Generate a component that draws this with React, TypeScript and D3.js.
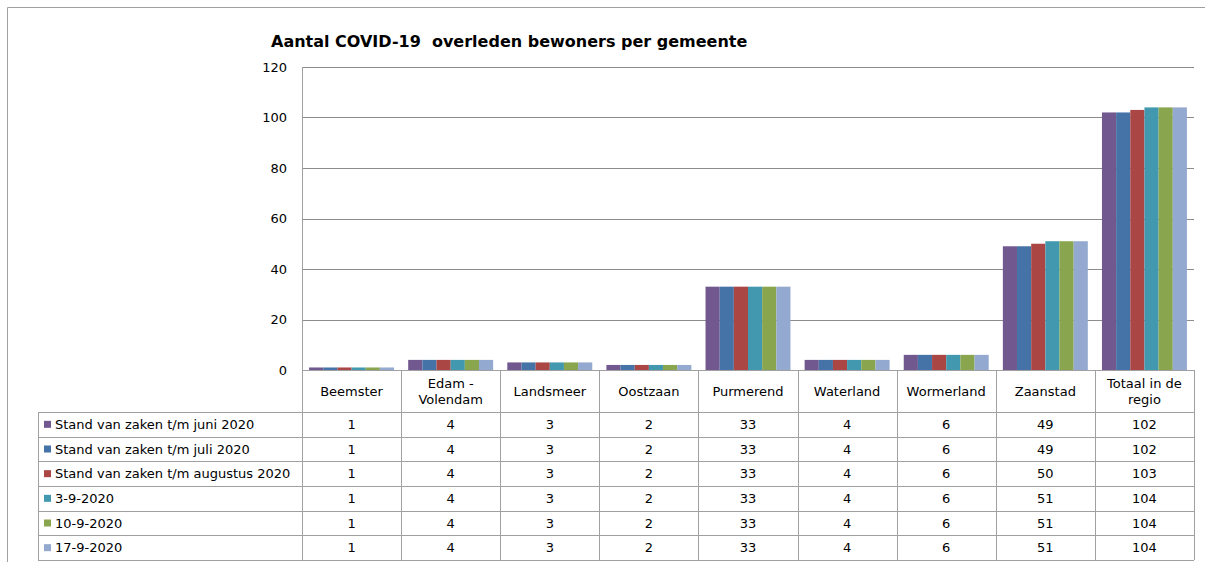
import React from "react";
import * as d3 from "d3";

const categories = [
  "Beemster",
  "Edam -\nVolendam",
  "Landsmeer",
  "Oostzaan",
  "Purmerend",
  "Waterland",
  "Wormerland",
  "Zaanstad",
  "Totaal in de\nregio",
];

const seriesNames = [
  "Stand van zaken t/m juni 2020",
  "Stand van zaken t/m juli 2020",
  "Stand van zaken t/m augustus 2020",
  "3-9-2020",
  "10-9-2020",
  "17-9-2020",
];

const juni = [1, 4, 3, 2, 33, 4, 6, 49, 102];
const juli = [1, 4, 3, 2, 33, 4, 6, 49, 102];
const augustus = [1, 4, 3, 2, 33, 4, 6, 50, 103];
const sep3 = [1, 4, 3, 2, 33, 4, 6, 51, 104];
const sep10 = [1, 4, 3, 2, 33, 4, 6, 51, 104];
const sep17 = [1, 4, 3, 2, 33, 4, 6, 51, 104];

const seriesValues = [juni, juli, augustus, sep3, sep10, sep17];
const colors = ["#71588f", "#4572a7", "#aa4643", "#4198af", "#89a54e", "#93a9cf"];
const yTicks = [0, 20, 40, 60, 80, 100, 120];

const FONT = "Tahoma, 'DejaVu Sans', sans-serif";

export default function App() {
  const W = 1205,
    H = 562;
  const plot = { left: 302, right: 1194, top: 67, bottom: 370 };
  const headerBottom = 412;
  const tableBottom = 560;
  const legendLeft = 38;

  const x = d3.scaleBand<number>()
    .domain(categories.map((_, i) => i))
    .range([plot.left, plot.right])
    .padding(0);

  const xs = d3.scaleBand<number>()
    .domain(seriesNames.map((_, i) => i))
    .range([0, x.bandwidth()])
    .paddingInner(0)
    .paddingOuter(0.5);

  const y = d3.scaleLinear().domain([0, 120]).range([plot.bottom, plot.top]);

  const rows = d3.scaleBand<number>()
    .domain(seriesNames.map((_, i) => i))
    .range([headerBottom, tableBottom])
    .padding(0);

  const grid = "#8c8c8c";
  const border = "#a0a0a0";

  return (
    <svg
      width={W}
      height={H}
      style={{ position: "absolute", left: 0, top: 0, background: "#fff" }}
      fontFamily={FONT}
    >
      {/* outer frame */}
      <line x1={7.5} y1={7.5} x2={W} y2={7.5} stroke={border} />
      <line x1={7.5} y1={7.5} x2={7.5} y2={H} stroke={border} />

      <text x={271} y={47} fontSize={16} fontWeight="bold" fill="#000" style={{ whiteSpace: "pre" }}>
        {"Aantal COVID-19  overleden bewoners per gemeente"}
      </text>

      {/* gridlines + y ticks */}
      {yTicks.map((t) => (
        <g key={t}>
          {t > 0 && (
            <line x1={plot.left} x2={plot.right} y1={Math.round(y(t)) + 0.5} y2={Math.round(y(t)) + 0.5} stroke={grid} />
          )}
          <text x={287} y={y(t)} dy="0.35em" textAnchor="end" fontSize={13} fill="#000">
            {t}
          </text>
        </g>
      ))}

      {/* bars */}
      {seriesValues.map((vals, s) =>
        vals.map((v, c) => (
          <rect
            key={`${s}-${c}`}
            x={(x(c) as number) + (xs(s) as number)}
            y={y(v)}
            width={xs.bandwidth()}
            height={plot.bottom - y(v)}
            fill={colors[s]}
          />
        ))
      )}

      {/* value axis line */}
      <line x1={plot.left + 0.5} x2={plot.left + 0.5} y1={plot.top} y2={tableBottom} stroke={border} />

      {/* data table header */}
      <line x1={plot.left} x2={plot.right} y1={plot.bottom + 0.5} y2={plot.bottom + 0.5} stroke={border} />
      {categories.map((c, i) => {
        const lines = c.split("\n");
        const cx = (x(i) as number) + x.bandwidth() / 2;
        const cy = (plot.bottom + headerBottom) / 2;
        return (
          <g key={c}>
            <line
              x1={Math.round((x(i) as number) + x.bandwidth()) + 0.5}
              x2={Math.round((x(i) as number) + x.bandwidth()) + 0.5}
              y1={plot.bottom}
              y2={tableBottom}
              stroke={border}
            />
            <text x={cx} y={cy - ((lines.length - 1) * 16) / 2} textAnchor="middle" fontSize={13} fill="#000">
              {lines.map((l, k) => (
                <tspan key={k} x={cx} dy={k === 0 ? "0.35em" : 16}>
                  {l}
                </tspan>
              ))}
            </text>
          </g>
        );
      })}

      {/* data table rows */}
      <line x1={legendLeft + 0.5} x2={legendLeft + 0.5} y1={headerBottom} y2={tableBottom} stroke={border} />
      {seriesNames.map((name, s) => {
        const top = rows(s) as number;
        const mid = top + rows.bandwidth() / 2;
        return (
          <g key={name}>
            <line x1={legendLeft} x2={plot.right} y1={Math.round(top) + 0.5} y2={Math.round(top) + 0.5} stroke={border} />
            <rect x={44} y={mid - 3.5} width={7} height={7} fill={colors[s]} />
            <text x={55} y={mid} dy="0.35em" fontSize={13} fill="#000">
              {name}
            </text>
            {seriesValues[s].map((v, c) => (
              <text
                key={c}
                x={(x(c) as number) + x.bandwidth() / 2}
                y={mid}
                dy="0.35em"
                textAnchor="middle"
                fontSize={13}
                fill="#000"
              >
                {v}
              </text>
            ))}
          </g>
        );
      })}
      <line x1={legendLeft} x2={plot.right} y1={tableBottom + 0.5} y2={tableBottom + 0.5} stroke={border} />
    </svg>
  );
}
